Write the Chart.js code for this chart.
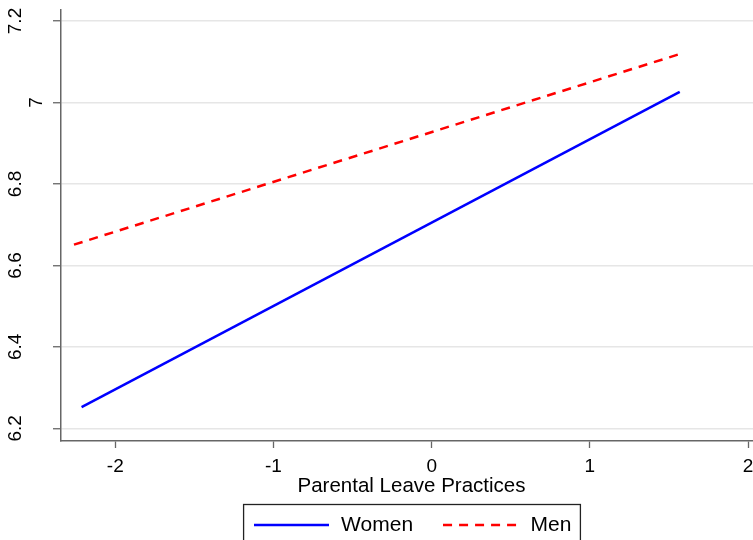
<!DOCTYPE html>
<html><head><meta charset="utf-8">
<script src="https://cdn.jsdelivr.net/npm/chart.js@4/dist/chart.umd.min.js"></script>
<style>html,body{margin:0;padding:0;background:#fff;overflow:hidden}#wrap{width:753px;height:540px;overflow:hidden}</style>
</head><body><div id="wrap"><canvas id="c" width="762" height="540"></canvas></div>
<script>
const xTicks = [-2, -1, 0, 1, 2];
const xTickLabels = ['-2', '-1', '0', '1', '2'];
const yTicks = [6.2, 6.4, 6.6, 6.8, 7.0, 7.2];
const yTickLabels = ['6.2', '6.4', '6.6', '6.8', '7', '7.2'];
const womenX = [-2.213, 1.568];
const womenY = [6.252, 7.026];
const menX = [-2.261, 1.585];
const menY = [6.651, 7.121];
const seriesNames = ['Women', 'Men'];
const xTitle = 'Parental Leave Practices';
const xRange = [-2.343, 2.088];
const yRange = [6.169, 7.227];

const FONT = '"Liberation Sans", Arial, Helvetica, sans-serif';
Chart.defaults.font.family = FONT;
Chart.defaults.color = '#000';

const toPts = (xs, ys) => xs.map((x, i) => ({x: x, y: ys[i]}));

function lineSample(color, dash, width) {
  const c = document.createElement('canvas');
  c.width = 75; c.height = 6;
  const g = c.getContext('2d');
  g.strokeStyle = color; g.lineWidth = width; g.setLineDash(dash);
  g.beginPath(); g.moveTo(0, 3); g.lineTo(75, 3); g.stroke();
  return c;
}

const yLabelPlugin = {
  id: 'yLabels',
  afterDraw(chart) {
    const ys = chart.scales.y;
    const ctx = chart.ctx;
    ctx.save();
    ctx.font = '19px ' + FONT;
    ctx.fillStyle = '#000';
    ctx.textAlign = 'center';
    ctx.textBaseline = 'middle';
    yTicks.forEach((v, i) => {
      const lab = yTickLabels[i];
      const w = ctx.measureText(lab).width;
      const py = ys.getPixelForValue(v);
      const px = ys.right - 9.6 - 1.36 * w;
      ctx.save();
      ctx.translate(px, py);
      ctx.rotate(-Math.PI / 2);
      ctx.fillText(lab, 0, 0);
      ctx.restore();
    });
    ctx.restore();
  }
};

const legendBoxPlugin = {
  id: 'legendBox',
  afterDraw(chart) {
    const lg = chart.legend;
    if (!lg || !lg.legendHitBoxes || !lg.legendHitBoxes.length) return;
    const hb = lg.legendHitBoxes;
    const first = hb[0], last = hb[hb.length - 1];
    const fs = 21;
    const left = first.left - 8;
    const right = last.left + last.width + 9;
    const top = first.top + fs / 2 - 20.5;
    const ctx = chart.ctx;
    ctx.save();
    ctx.strokeStyle = '#222';
    ctx.lineWidth = 1.3;
    ctx.strokeRect(left, top, right - left, 60);
    ctx.restore();
  }
};

new Chart(document.getElementById('c'), {
  type: 'line',
  data: {
    datasets: [
      {label: seriesNames[0], data: toPts(womenX, womenY), borderColor: '#0000ff', backgroundColor: '#0000ff', borderWidth: 2.5, pointRadius: 0, tension: 0,
       pointStyle: lineSample('#0000ff', [], 2.5)},
      {label: seriesNames[1], data: toPts(menX, menY), borderColor: '#ff0000', backgroundColor: '#ff0000', borderWidth: 2.5, borderDash: [9, 7], pointRadius: 0, tension: 0,
       pointStyle: lineSample('#ff0000', [9, 7], 2.5)}
    ]
  },
  options: {
    responsive: false,
    devicePixelRatio: 1,
    animation: false,
    layout: {padding: {top: 10, left: 0, right: 0, bottom: -5.5}},
    plugins: {
      legend: {
        position: 'bottom',
        fullSize: false,
        labels: {
          usePointStyle: true,
          pointStyleWidth: 79,
          font: {size: 21},
          color: '#000',
          padding: 28
        }
      },
      tooltip: {enabled: false}
    },
    scales: {
      x: {
        type: 'linear',
        min: xRange[0],
        max: xRange[1],
        afterBuildTicks: s => { s.ticks = xTicks.map(v => ({value: v})); },
        afterFit: s => { s.height = 45.5; s.paddingLeft = 0; s.paddingRight = 0; },
        ticks: {
          autoSkip: false,
          maxRotation: 0,
          padding: 7,
          font: {size: 19},
          color: '#000',
          callback: v => xTickLabels[xTicks.indexOf(v)]
        },
        grid: {drawOnChartArea: false, drawTicks: true, tickLength: 7, tickColor: '#666', tickWidth: 1.3},
        border: {display: true, color: '#666', width: 1.5},
        title: {display: true, text: xTitle, font: {size: 20.5}, color: '#000', padding: {top: 0, bottom: -11.8}}
      },
      y: {
        type: 'linear',
        min: yRange[0],
        max: yRange[1],
        afterBuildTicks: s => { s.ticks = yTicks.map(v => ({value: v})); },
        afterFit: s => { s.width = 61; s.paddingTop = 0; s.paddingBottom = 0; },
        ticks: {display: false},
        grid: {color: '#e6e6e6', lineWidth: 1.5, drawTicks: true, tickLength: 8, tickColor: '#666', tickWidth: 1.3},
        border: {display: true, color: '#666', width: 1.5}
      }
    }
  },
  plugins: [yLabelPlugin, legendBoxPlugin]
});
</script>
</body></html>
